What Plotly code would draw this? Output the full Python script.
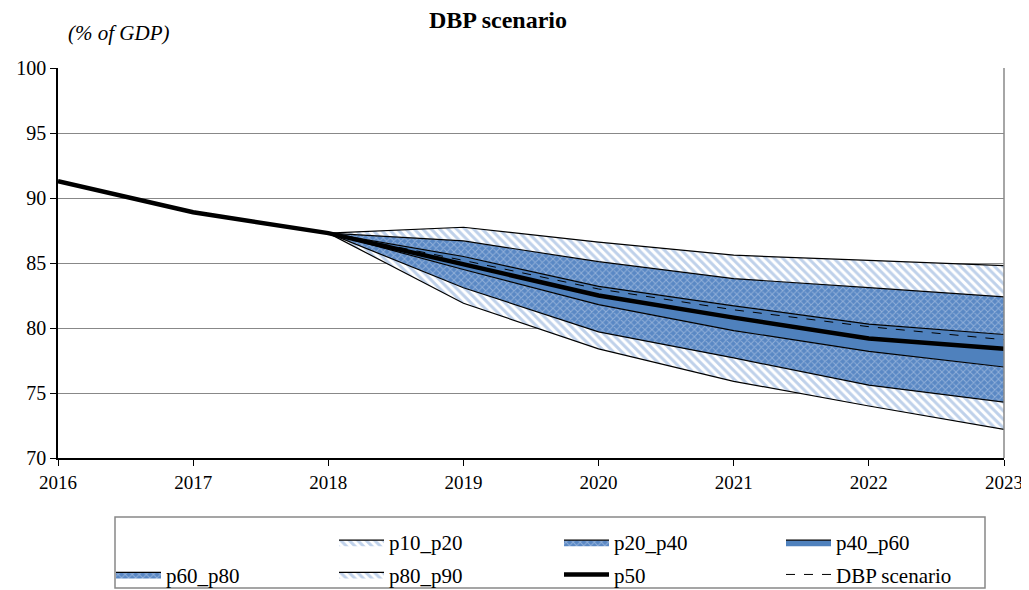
import plotly.graph_objects as go

years_all = [2016, 2017, 2018, 2019, 2020, 2021, 2022, 2023]
years_fan = [2018, 2019, 2020, 2021, 2022, 2023]

p50 = [91.3, 88.9, 87.3, 84.9, 82.5, 80.8, 79.2, 78.4]
p10 = [87.3, 81.9, 78.4, 75.9, 74.0, 72.2]
p20 = [87.3, 83.1, 79.7, 77.7, 75.6, 74.3]
p40 = [87.3, 84.5, 81.8, 79.8, 78.2, 77.0]
p60 = [87.3, 85.5, 83.2, 81.7, 80.3, 79.5]
p80 = [87.3, 86.7, 85.1, 83.8, 83.1, 82.4]
p90 = [87.3, 87.75, 86.6, 85.6, 85.2, 84.8]
dbp = [87.3, 85.2, 83.0, 81.4, 80.1, 79.1]

band_names = ["p10_p20", "p20_p40", "p40_p60", "p60_p80", "p80_p90"]
band_tops = [p20, p40, p60, p80, p90]
band_legends = ["legend2", "legend3", "legend4", "legend", "legend2"]

FONT = "Liberation Serif, Times New Roman, Times, serif"
BLUE = "#4F81BD"
hatch = dict(shape="\\", fgcolor="#7FA3D6", bgcolor="white", size=6, solidity=0.5)
cross = dict(shape="x", fgcolor="#C7D6EC", bgcolor="#5A88C4", size=5, solidity=0.35)
patterns = [hatch, cross, None, cross, hatch]

OFF = 8  # page body margin
W, H = 1029 - OFF, 590 - OFF
L, R, T, B = 58 - OFF, 25, 68 - OFF, 132
PW, PH = W - L - R, H - T - B


def px_x(px):
    return (px - OFF - L) / PW


def px_y(py):
    return (H - B - (py - OFF)) / PH


fig = go.Figure()

# base (blank legend entry)
fig.add_trace(go.Scatter(x=years_fan, y=p10, mode="lines", name=" ", legend="legend",
                         legendgroup="g0", line=dict(color="rgba(0,0,0,0)", width=0),
                         hoverinfo="skip"))
for i, (name, top, pat, lg) in enumerate(zip(band_names, band_tops, patterns, band_legends)):
    kw = dict(fillcolor=BLUE) if pat is None else dict(fillpattern=pat, fillcolor="white")
    fig.add_trace(go.Scatter(x=years_fan, y=top, mode="lines", name=name, legend=lg,
                             legendgroup="g%d" % (i + 1),
                             fill="tonexty", line=dict(color="black", width=1.2), **kw))

fig.add_trace(go.Scatter(x=years_fan, y=p10, mode="lines", showlegend=False,
                         line=dict(color="black", width=1.2)))
fig.add_trace(go.Scatter(x=years_all, y=p50, mode="lines", name="p50", legend="legend3",
                         legendgroup="g7", line=dict(color="black", width=4.5)))
fig.add_trace(go.Scatter(x=years_fan, y=dbp, mode="lines", name="DBP scenario", legend="legend4",
                         legendgroup="g8", line=dict(color="black", width=1, dash="dash")))

fig.add_shape(type="line", xref="paper", yref="paper", x0=1, x1=1, y0=0, y1=1,
              line=dict(color="#888888", width=1.5))
fig.add_shape(type="rect", xref="paper", yref="paper", x0=px_x(115), x1=px_x(985),
              y0=px_y(588), y1=px_y(517), line=dict(color="#888888", width=1.5),
              fillcolor="rgba(0,0,0,0)", layer="below")

fig.add_annotation(text="<b>DBP scenario</b>", xref="paper", yref="paper",
                   x=px_x(498), y=px_y(20), showarrow=False,
                   font=dict(family=FONT, size=24, color="black"), xanchor="center", yanchor="middle")
fig.add_annotation(text="<i>(% of GDP)</i>", xref="paper", yref="paper",
                   x=px_x(66), y=px_y(33), showarrow=False,
                   font=dict(family=FONT, size=21, color="black"), xanchor="left", yanchor="middle")

col_x = [117, 340, 565, 787]
legend_common = dict(orientation="v", xanchor="left", yanchor="top", bgcolor="rgba(0,0,0,0)",
                     borderwidth=0, font=dict(family=FONT, size=21, color="black"),
                     itemwidth=45, traceorder="grouped", tracegroupgap=2)

fig.update_layout(
    width=W, height=H,
    margin=dict(l=L, r=R, t=T, b=B, autoexpand=False),
    paper_bgcolor="white", plot_bgcolor="white",
    font=dict(family=FONT, size=20, color="black"),
    showlegend=True,
    legend=dict(x=px_x(col_x[0] - 6), y=px_y(522), **legend_common),
    legend2=dict(x=px_x(col_x[1] - 6), y=px_y(522), **legend_common),
    legend3=dict(x=px_x(col_x[2] - 6), y=px_y(522), **legend_common),
    legend4=dict(x=px_x(col_x[3] - 6), y=px_y(522), **legend_common),
    xaxis=dict(range=[2016, 2023], tickvals=years_all, ticks="outside", ticklen=6,
               tickcolor="black", showline=True, linecolor="black", linewidth=1.5,
               showgrid=False, zeroline=False, tickfont=dict(size=19)),
    yaxis=dict(range=[70, 100], dtick=5, ticks="outside", ticklen=6, tickcolor="black",
               showline=True, linecolor="black", linewidth=1.5, showgrid=True,
               gridcolor="#888888", gridwidth=1.2, zeroline=False, tickfont=dict(size=20)),
)

fig.write_html("out.html")
